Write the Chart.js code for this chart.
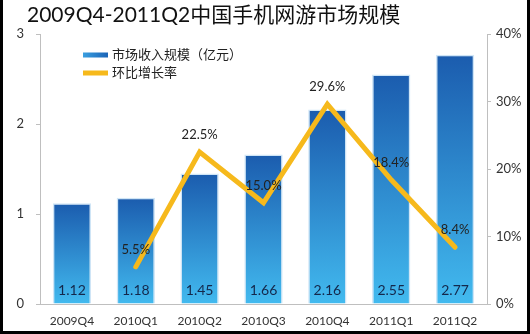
<!DOCTYPE html>
<html>
<head>
<meta charset="utf-8">
<script src="https://cdn.jsdelivr.net/npm/chart.js@4"></script>
<style>
  body { margin: 0; background: #fff; }
  #wrap { position: relative; width: 530px; height: 334px; }
  #frame { position: absolute; left: 0; top: 0; width: 530px; height: 334px; box-sizing: border-box;
           border-left: 3px solid #000; border-right: 3px solid #000; border-bottom: 3px solid #000; pointer-events: none; }
</style>
</head>
<body>
<div id="wrap">
  <canvas id="chart" width="530" height="334"></canvas>
  <div id="frame"></div>
</div>
<script>
const title = '2009Q4-2011Q2中国手机网游市场规模';
const categories = ['2009Q4', '2010Q1', '2010Q2', '2010Q3', '2010Q4', '2011Q1', '2011Q2'];
const revenue = [1.12, 1.18, 1.45, 1.66, 2.16, 2.55, 2.77];
const growth = [null, 5.5, 22.5, 15.0, 29.6, 18.4, 8.4];
const revenueLabel = '市场收入规模（亿元）';
const growthLabel = '环比增长率';

const FONT = 'Lato, "Noto Sans CJK SC", sans-serif';
const axisColor = '#bfbfbf';
const barTop = '#1b5cae';
const barBottom = '#42baef';
const lineColor = '#f6b91c';

function barGradient(ctx) {
    const chart = ctx.chart;
    if (!chart.chartArea || ctx.raw == null) return '#2a86d0';
    const ys = chart.scales.y;
    const top = ys.getPixelForValue(ctx.raw);
    const bottom = ys.getPixelForValue(0);
    const g = chart.ctx.createLinearGradient(0, top, 0, bottom);
    g.addColorStop(0, barTop);
    g.addColorStop(1, barBottom);
    return g;
}

const decorPlugin = {
    id: 'decor',
    afterDraw(chart) {
        const ctx = chart.ctx;
        ctx.save();
        // title
        ctx.font = '21px ' + FONT;
        ctx.fillStyle = '#111';
        ctx.textBaseline = 'middle';
        ctx.textAlign = 'left';
        ctx.fillText(title, 27, 15);

        // legend
        const lx = 83, ly = 55;
        let g = ctx.createLinearGradient(lx, 0, lx + 24, 0);
        g.addColorStop(0, '#3a9fe0');
        g.addColorStop(1, '#1c66b8');
        ctx.fillStyle = g;
        ctx.fillRect(lx, ly - 2.5, 25, 5);
        ctx.fillStyle = lineColor;
        ctx.fillRect(lx, ly + 18 - 2.5, 25, 5);
        ctx.font = '13px ' + FONT;
        ctx.fillStyle = '#222';
        ctx.fillText(chart.data.datasets[0].label, lx + 29, ly);
        ctx.fillText(chart.data.datasets[1].label, lx + 29, ly + 18);
        ctx.restore();
    },
    afterDatasetsDraw(chart) {
        const ctx = chart.ctx;
        const base = chart.scales.y.getPixelForValue(0);
        ctx.save();
        ctx.textAlign = 'center';
        ctx.textBaseline = 'middle';
        ctx.font = '14px ' + FONT;
        ctx.fillStyle = '#14284b';
        chart.getDatasetMeta(0).data.forEach((bar, i) => {
            ctx.fillText(revenue[i].toFixed(2), bar.x, base - 14);
        });
        ctx.font = '13px ' + FONT;
        ctx.fillStyle = '#222';
        chart.getDatasetMeta(1).data.forEach((pt, i) => {
            if (growth[i] == null) return;
            ctx.fillText(growth[i].toFixed(1) + '%', pt.x, pt.y - 17);
        });
        ctx.restore();
    }
};

const config = {
    type: 'bar',
    data: {
        labels: categories,
        datasets: [
            {
                type: 'bar',
                label: revenueLabel,
                data: revenue,
                yAxisID: 'y',
                backgroundColor: barGradient,
                borderColor: '#cfe5f6',
                borderWidth: 1.5,
                barPercentage: 0.6,
                categoryPercentage: 1,
                order: 1
            },
            {
                type: 'line',
                label: growthLabel,
                data: growth,
                yAxisID: 'y1',
                borderColor: lineColor,
                borderWidth: 5,
                borderCapStyle: 'round',
                borderJoinStyle: 'miter',
                pointRadius: 0,
                tension: 0,
                order: 0
            }
        ]
    },
    options: {
        responsive: false,
        animation: false,
        devicePixelRatio: 1,
        layout: { padding: { top: 34, left: 0, right: 0, bottom: 0 } },
        plugins: {
            legend: { display: false },
            title: { display: false },
            tooltip: { enabled: false }
        },
        scales: {
            x: {
                grid: { display: false },
                border: { display: true, color: axisColor, width: 1 },
                ticks: { color: '#333', font: { family: FONT, size: 12 }, padding: 2 },
                afterFit(s) { s.height = 30; }
            },
            y: {
                position: 'left',
                min: 0, max: 3,
                ticks: { stepSize: 1, color: '#333', font: { family: FONT, size: 13 }, padding: 12 },
                grid: { drawOnChartArea: false, tickLength: 4, color: axisColor },
                border: { display: true, color: axisColor, width: 1 },
                afterFit(s) { s.width = 40; }
            },
            y1: {
                position: 'right',
                min: 0, max: 40,
                ticks: { stepSize: 10, color: '#333', font: { family: FONT, size: 13 }, padding: 5,
                         callback: v => v + '%' },
                grid: { drawOnChartArea: false, tickLength: 4, color: axisColor },
                border: { display: true, color: axisColor, width: 1 },
                afterFit(s) { s.width = 43; }
            }
        }
    },
    plugins: [decorPlugin]
};

new Chart(document.getElementById('chart'), config);
</script>
</body>
</html>
